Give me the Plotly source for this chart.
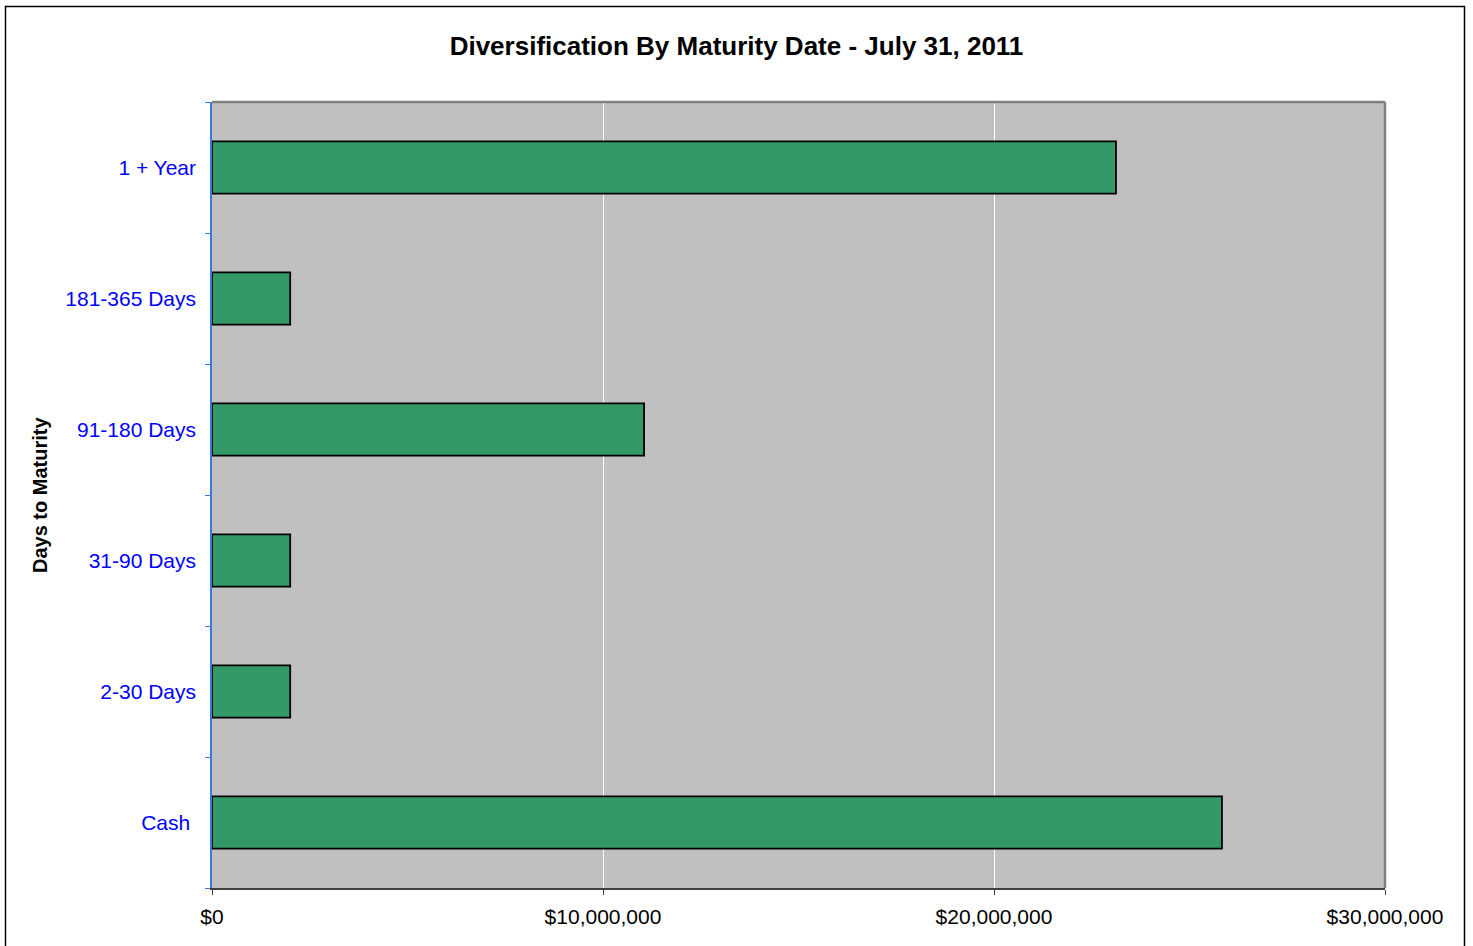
import plotly.graph_objects as go

categories = ["Cash", "2-30 Days", "31-90 Days", "91-180 Days", "181-365 Days", "1 + Year"]
tick_labels = ["Cash\u00a0", "2-30 Days", "31-90 Days", "91-180 Days", "181-365 Days", "1 + Year"]
values = [25830000, 2000000, 2000000, 11050000, 2000000, 23120000]
x_ticks = [0, 10000000, 20000000, 30000000]
x_tick_labels = ["$0", "$10,000,000", "$20,000,000", "$30,000,000"]

W, H = 1473, 946
L, R, T, B = 212, 88, 102, 58
pw, ph = W - L - R, H - T - B

def px(x):
    return (x - L) / pw

def py(y):
    return (H - B - y) / ph

fig = go.Figure(go.Bar(
    y=categories, x=values, orientation="h",
    marker=dict(color="#339966", line=dict(color="#000000", width=1.8)),
))

fig.update_layout(
    width=W, height=H,
    margin=dict(l=L, r=R, t=T, b=B, autoexpand=False),
    paper_bgcolor="white", plot_bgcolor="#C0C0C0",
    font=dict(family="Liberation Sans, Arial, sans-serif", size=21, color="black"),
    bargap=0.6, showlegend=False,
    title=dict(text="<b>Diversification By Maturity Date - July 31, 2011</b>",
               x=0.5, xref="container", xanchor="center",
               y=1 - 46 / H, yref="container", yanchor="middle",
               font=dict(size=26, color="black")),
    xaxis=dict(range=[0, 30000000], tickvals=x_ticks, ticktext=x_tick_labels,
               showgrid=True, gridcolor="#FFFFFF", gridwidth=1,
               zeroline=False, showline=True, linecolor="#404040", linewidth=2,
               ticks="outside", ticklen=5, tickcolor="#404040", tickwidth=1,
               ticklabelstandoff=4, tickfont=dict(size=21, color="black")),
    yaxis=dict(categoryorder="array", categoryarray=categories,
               tickvals=categories, ticktext=tick_labels,
               tickson="boundaries", showgrid=False, zeroline=False,
               showline=True, linecolor="#3A7BD5", linewidth=1.5,
               ticks="outside", ticklen=5, tickcolor="#3A7BD5", tickwidth=1,
               ticklabelstandoff=10, tickfont=dict(size=21, color="#0000FF")),
    annotations=[dict(text="<b>Days to Maturity</b>", xref="paper", yref="paper",
                      x=px(40), y=py(495), textangle=-90, showarrow=False,
                      xanchor="center", yanchor="middle",
                      font=dict(size=20, color="black"))],
    shapes=[
        dict(type="line", xref="paper", yref="paper", x0=0, x1=1, y0=1, y1=1,
             line=dict(color="#808080", width=2.5)),
        dict(type="line", xref="paper", yref="paper", x0=1, x1=1, y0=0, y1=1,
             line=dict(color="#808080", width=2.5)),
        dict(type="path", xref="paper", yref="paper",
             path=f"M {px(5.5)} {py(950)} L {px(5.5)} {py(6.5)} L {px(1464.5)} {py(6.5)} L {px(1464.5)} {py(950)}",
             line=dict(color="#000000", width=1.5)),
    ],
)

fig.write_html("out.html")
